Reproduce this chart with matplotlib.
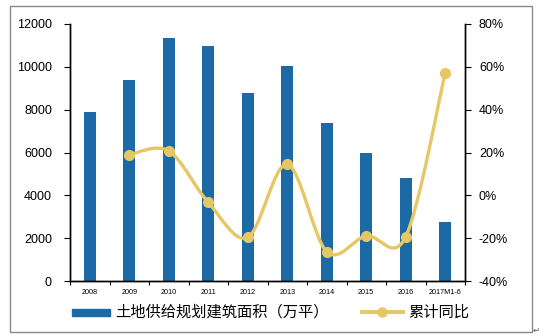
import matplotlib
matplotlib.use("Agg")
import matplotlib.pyplot as plt
from matplotlib.path import Path
from matplotlib.patches import PathPatch, Rectangle
from matplotlib.lines import Line2D
import numpy as np

plt.rcParams['font.family'] = ['Liberation Sans', 'Noto Sans CJK SC', 'DejaVu Sans']

categories = ["2008", "2009", "2010", "2011", "2012", "2013", "2014", "2015", "2016", "2017M1-6"]
area = [7900, 9400, 11330, 10950, 8780, 10040, 7380, 5980, 4820, 2740]
yoy = [None, 19.0, 20.7, -3.3, -19.6, 14.5, -26.3, -18.9, -19.3, 57.2]

bar_color = "#1B6AA6"
line_color = "#E6C766"

W, H = 541, 336
fig = plt.figure(figsize=(W / 100, H / 100), dpi=100)
ax = fig.add_axes([70 / W, 1 - 281 / H, 395 / W, 257 / H])
ax2 = ax.twinx()

x = np.arange(len(categories))
ax.bar(x, area, width=0.31, color=bar_color, zorder=2)
ax.set_xlim(-0.5, len(categories) - 0.5)
ax.set_ylim(0, 12000)
ax.set_yticks(range(0, 12001, 2000))
ax.set_xticks(x)
ax.set_xticklabels(categories, fontsize=5.2)
ax.set_xticks(np.arange(-0.5, len(categories), 1), minor=True)
ax.tick_params(axis='x', which='major', length=0, pad=6)
ax.tick_params(axis='x', which='minor', length=3, width=0.8, direction='out')
ax.tick_params(axis='y', labelsize=9, length=4, width=0.8, pad=9)

ax2.set_ylim(-40, 80)
ax2.set_yticks(range(-40, 81, 20))
ax2.set_yticklabels([f"{v}%" for v in range(-40, 81, 20)])
ax2.tick_params(axis='y', labelsize=9, length=4, width=0.8, pad=6)

for a in (ax, ax2):
    a.spines['top'].set_visible(False)
    a.spines['left'].set_linewidth(1.0)
    a.spines['right'].set_linewidth(1.0)
    a.spines['bottom'].set_linewidth(1.0)

# smoothed cumulative growth line (Catmull-Rom segments as cubic Beziers)
px = np.array([i for i, v in enumerate(yoy) if v is not None], dtype=float)
py = np.array([v for v in yoy if v is not None], dtype=float)
pts = np.column_stack([px, py])
verts = [tuple(pts[0])]
codes = [Path.MOVETO]
n = len(pts)
for i in range(n - 1):
    p0 = pts[i - 1] if i > 0 else pts[i]
    p1 = pts[i]
    p2 = pts[i + 1]
    p3 = pts[i + 2] if i + 2 < n else pts[i + 1]
    c1 = p1 + (p2 - p0) / 6.0
    c2 = p2 - (p3 - p1) / 6.0
    verts += [tuple(c1), tuple(c2), tuple(p2)]
    codes += [Path.CURVE4] * 3
ax2.add_patch(PathPatch(Path(verts, codes), fill=False, edgecolor=line_color,
                        lw=2.4, capstyle='round', zorder=3))
ax2.plot(px, py, linestyle='none', marker='o', ms=7, color=line_color, zorder=4)

# legend row
fig.patches.append(Rectangle((72 / W, 1 - 315.5 / H), 38 / W, 6.5 / H,
                             transform=fig.transFigure, color=bar_color))
fig.text(115 / W, 1 - 312 / H, "土地供给规划建筑面积（万平）", fontsize=11,
         va='center', ha='left', family=['Noto Sans CJK SC', 'DejaVu Sans'])
fig.lines.append(Line2D([362 / W, 403 / W], [1 - 312 / H, 1 - 312 / H],
                        transform=fig.transFigure, color=line_color, lw=2.8))
fig.lines.append(Line2D([382 / W], [1 - 312 / H], transform=fig.transFigure,
                        color=line_color, marker='o', ms=6.5))
fig.text(408 / W, 1 - 312 / H, "累计同比", fontsize=11, va='center', ha='left',
         family=['Noto Sans CJK SC', 'DejaVu Sans'])

# outer frame
fig.patches.append(Rectangle((9.5 / W, 1 - 332 / H), 522.5 / W, 326.5 / H,
                             transform=fig.transFigure, fill=False,
                             edgecolor="#8a8a8a", lw=1.0))
fig.text(533 / W, 1 - 330 / H, "↵", fontsize=6, color="#555555", va='center', ha='left',
         family=['DejaVu Sans'])

fig.savefig("out.png", dpi=100)
